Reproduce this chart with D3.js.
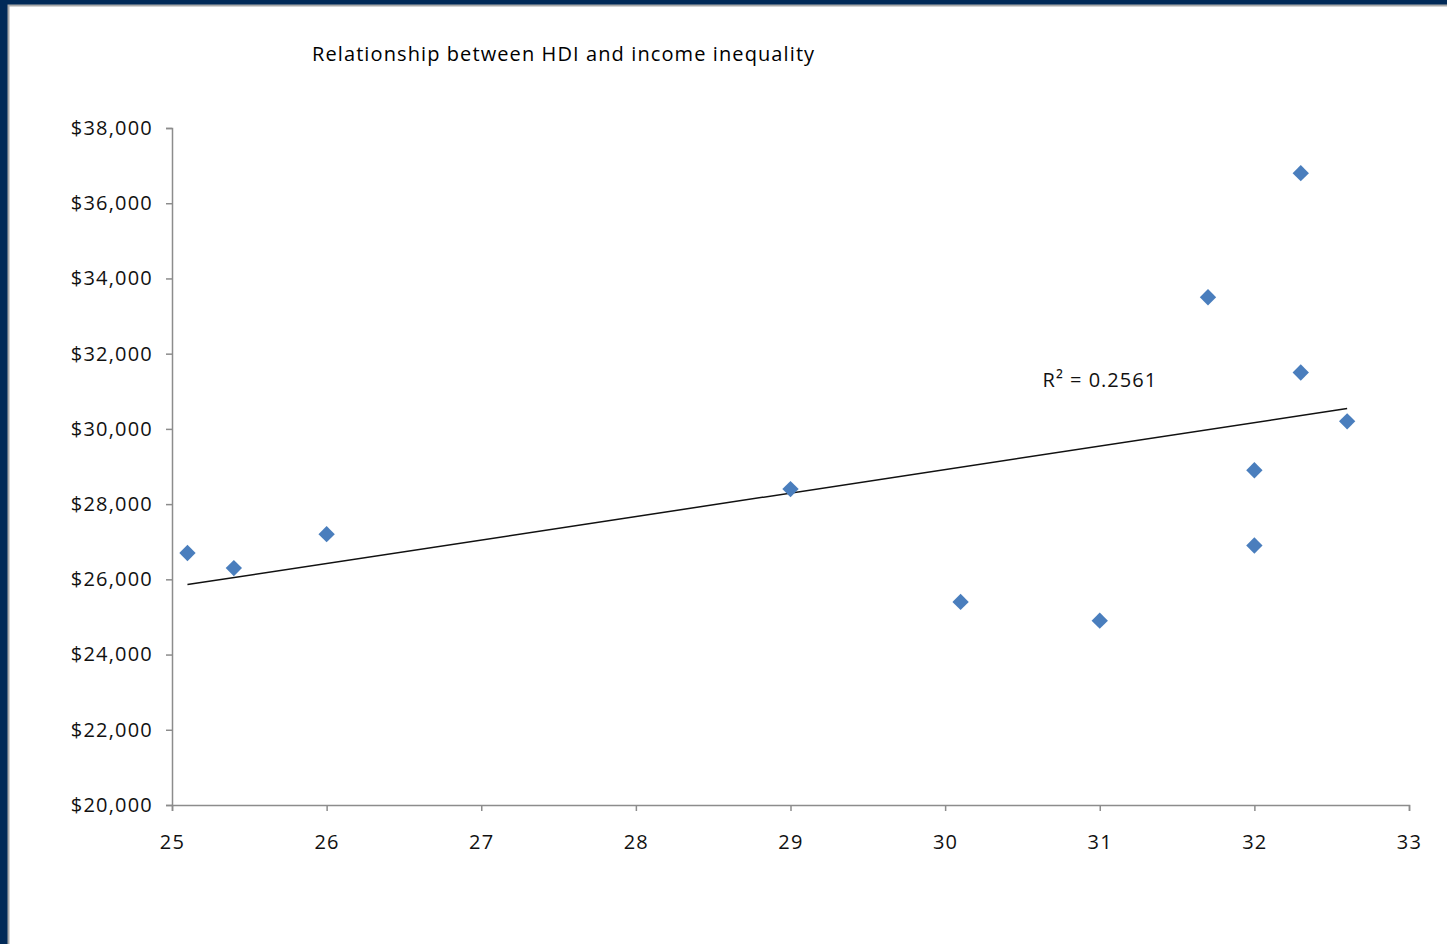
<!DOCTYPE html>
<html>
<head>
<meta charset="utf-8">
<script src="https://cdn.jsdelivr.net/npm/d3@7"></script>
<style>
  html, body { margin: 0; padding: 0; background: #012a58; }
  svg { display: block; }
</style>
</head>
<body>
<script>
// ---- data ----
const title = "Relationship between HDI and income inequality";
const xValues = [25.1, 25.4, 26.0, 29.0, 30.1, 31.0, 31.7, 32.0, 32.0, 32.3, 32.3, 32.6];
const yValues = [26700, 26300, 27200, 28400, 25400, 24900, 33500, 28900, 26900, 36800, 31500, 30200];
const xTicks = [25, 26, 27, 28, 29, 30, 31, 32, 33];
const yTicks = [20000, 22000, 24000, 26000, 28000, 30000, 32000, 34000, 36000, 38000];
const r2Label = "R² = 0.2561";
const r2Anchor = [30.63, 31330];

const W = 1447, H = 944;
const svg = d3.select("body").append("svg").attr("width", W).attr("height", H);

// frame
svg.append("rect").attr("x", 0).attr("y", 0).attr("width", W).attr("height", H).attr("fill", "#012a58");
svg.append("rect").attr("x", 8.5).attr("y", 5.5).attr("width", W + 10).attr("height", H + 10)
  .attr("fill", "#ffffff").attr("stroke", "#a9a9a9").attr("stroke-width", 2);

const font = "'Open Sans', 'DejaVu Sans', sans-serif";

const x = d3.scaleLinear().domain([25, 33]).range([172, 1409]);
const y = d3.scaleLinear().domain([20000, 38000]).range([805, 128]);

// title
svg.append("text").attr("x", 312).attr("y", 61).text(title)
  .attr("font-family", font).attr("font-size", 20).attr("letter-spacing", 1.1)
  .attr("font-weight", 500).attr("fill", "#000");

// axes
const fmt = d => "$" + d3.format(",")(d);
const yAxis = svg.append("g").attr("transform", "translate(172,0)")
  .call(d3.axisLeft(y).tickValues(yTicks).tickFormat(fmt).tickSize(6).tickPadding(13));
const xAxis = svg.append("g").attr("transform", "translate(0,805)")
  .call(d3.axisBottom(x).tickValues(xTicks).tickFormat(d3.format("d")).tickSize(6).tickPadding(24));
[yAxis, xAxis].forEach(g => {
  g.select(".domain").attr("stroke", "#8c8c8c").attr("stroke-width", 1.5);
  g.selectAll(".tick line").attr("stroke", "#8c8c8c").attr("stroke-width", 1.5);
  g.selectAll("text").attr("font-family", font).attr("font-size", 20).attr("fill", "#111")
    .attr("letter-spacing", 1.2);
});

// trendline (least squares)
const n = xValues.length;
const mx = d3.mean(xValues), my = d3.mean(yValues);
let sxy = 0, sxx = 0;
for (let i = 0; i < n; i++) { sxy += (xValues[i] - mx) * (yValues[i] - my); sxx += (xValues[i] - mx) ** 2; }
const slope = sxy / sxx, icpt = my - slope * mx;
const x0 = d3.min(xValues), x1 = d3.max(xValues);
svg.append("line")
  .attr("x1", x(x0)).attr("y1", y(icpt + slope * x0))
  .attr("x2", x(x1)).attr("y2", y(icpt + slope * x1))
  .attr("stroke", "#111").attr("stroke-width", 1.5);

// points
const pts = xValues.map((v, i) => [v, yValues[i]]);
svg.append("g").selectAll("path").data(pts).join("path")
  .attr("transform", d => `translate(${x(d[0])},${y(d[1])})`)
  .attr("d", d3.symbol(d3.symbolDiamond2, 170)())
  .attr("fill", "#4a7ebd");

// R² label
svg.append("text").attr("x", x(r2Anchor[0])).attr("y", y(r2Anchor[1]) + 8).text(r2Label)
  .attr("font-family", font).attr("font-size", 20).attr("letter-spacing", 1)
  .attr("fill", "#111");
</script>
</body>
</html>
